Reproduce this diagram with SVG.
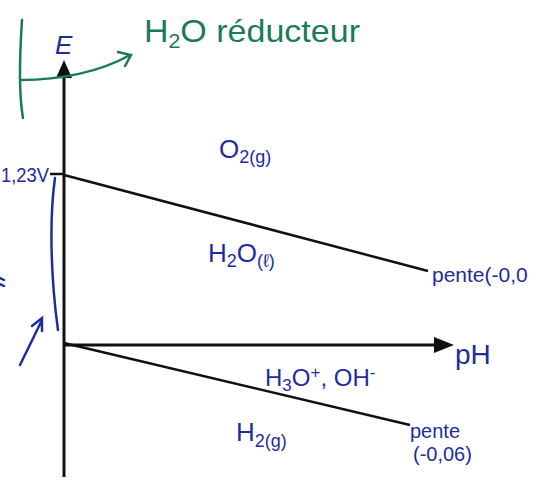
<svg xmlns="http://www.w3.org/2000/svg" width="541" height="483" viewBox="0 0 541 483">
<style>
.blue{fill:#1f2d9c;font-family:"Liberation Sans",Arial,sans-serif}
.green{fill:#1b7a5c;font-family:"Liberation Sans",Arial,sans-serif}
.ax{stroke:#111;stroke-width:3;fill:none}
.ln{stroke:#111;stroke-width:2.5;fill:none}
.bl{stroke:#1f2d9c;stroke-width:2.5;fill:none;stroke-linecap:round}
.gr{stroke:#1b7a5c;stroke-width:2.5;fill:none;stroke-linecap:round}
</style>
<rect width="541" height="483" fill="#fff"/>
<g id="connectors">
<line class="ax" x1="64" y1="477" x2="64" y2="64"/>
<path d="M56,78 L64,60 L72,78 Z" fill="#111"/>
<line class="ax" x1="64" y1="345" x2="436" y2="345"/>
<path d="M434,337 L454,345 L434,353 Z" fill="#111"/>
<line class="ln" x1="64" y1="175" x2="428" y2="271"/>
<line class="ln" x1="64" y1="343" x2="410" y2="425"/>
<line class="ln" x1="50" y1="174" x2="64" y2="174"/>
<path class="bl" d="M55,178 C49,220 51,280 58,330"/>
<path class="bl" d="M20,365 L42,320 M32,326 L42,318 L42,331"/>
<path class="bl" d="M0,278 L4,280 M0,284 L4,286"/>
<path class="gr" d="M22,20 C20,50 18,90 23,118"/>
<path class="gr" d="M21,80 C60,80 100,72 130,55 M118,52 L131,55 L125,66"/>
</g>
<g id="label-E"><text class="blue" x="55" y="54" font-size="26" font-style="italic">E</text></g>
<g id="label-title"><text class="green" x="144" y="42" font-size="32" textLength="216" lengthAdjust="spacingAndGlyphs">H<tspan font-size="20" dy="6">2</tspan><tspan dy="-6">O réducteur</tspan></text></g>
<g id="label-123"><text class="blue" x="1" y="182" font-size="20" textLength="48" lengthAdjust="spacingAndGlyphs">1,23V</text></g>
<g id="region-O2"><text class="blue" x="219" y="158" font-size="26">O<tspan font-size="18" dy="5">2(g)</tspan></text></g>
<g id="region-H2O"><text class="blue" x="208" y="262" font-size="26">H<tspan font-size="18" dy="5">2</tspan><tspan dy="-5">O</tspan><tspan font-size="18" dy="5">(ℓ)</tspan></text></g>
<g id="label-pente1"><text class="blue" x="432" y="282" font-size="21">pente(-0,0</text></g>
<g id="label-pH"><text class="blue" x="455" y="364" font-size="28">pH</text></g>
<g id="region-H3O"><text class="blue" x="265" y="386" font-size="24">H<tspan font-size="17" dy="5">3</tspan><tspan dy="-5">O</tspan><tspan font-size="17" dy="-8">+</tspan><tspan dy="8">, OH</tspan><tspan font-size="17" dy="-8">-</tspan></text></g>
<g id="region-H2"><text class="blue" x="236" y="441" font-size="26">H<tspan font-size="18" dy="6">2(g)</tspan></text></g>
<g id="label-pente2"><text class="blue" x="410" y="438" font-size="20">pente</text><text class="blue" x="413" y="461" font-size="20">(-0,06)</text></g>
</svg>
